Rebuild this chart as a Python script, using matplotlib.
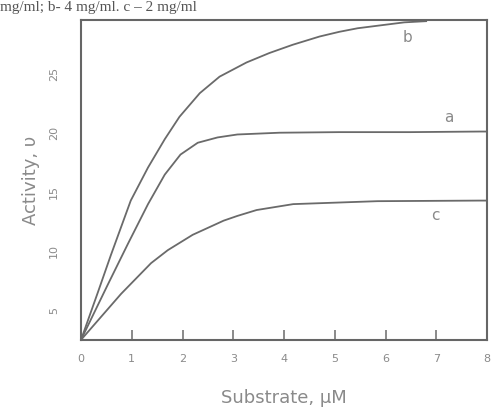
import matplotlib.pyplot as plt

# Values
substrate_b = [0, 0.33, 0.59, 0.98, 1.32, 1.65, 1.94, 2.34, 2.73, 3.26, 3.71, 4.17,
               4.70, 5.09, 5.45, 6.0, 6.37, 6.8]
activity_b = [2.5, 6.5, 9.7, 14.3, 17.1, 19.5, 21.4, 23.4, 24.8, 26.0, 26.8, 27.5,
              28.2, 28.6, 28.9, 29.2, 29.4, 29.5]

substrate_a = [0, 0.53, 0.92, 1.32, 1.65, 1.96, 2.30, 2.69, 3.08, 3.91, 5.09, 6.5, 7.86, 8.0]
activity_a = [2.5, 7.2, 10.6, 14.0, 16.5, 18.2, 19.2, 19.65, 19.9, 20.05, 20.1, 20.1, 20.15, 20.15]

substrate_c = [0, 0.79, 1.38, 1.71, 2.2, 2.81, 3.08, 3.46, 4.18, 5.84, 7.86, 8.0]
activity_c = [2.5, 6.4, 9.0, 10.1, 11.4, 12.6, 13.0, 13.5, 14.0, 14.25, 14.3, 14.3]

x_ticks = [0, 1, 2, 3, 4, 5, 6, 7, 8]
y_ticks = [5, 10, 15, 20, 25]

curve_labels = ['b', 'a', 'c']
label_pos = [(6.43, 28.1), (7.25, 21.3), (6.98, 13.0)]

line_color = '#6a6a6a'
text_color = '#8a8a8a'

fig = plt.figure(figsize=(4.97, 4.08), dpi=100)
ax = fig.add_axes([0.163, 0.167, 0.817, 0.784])

for xs, ys in [(substrate_b, activity_b), (substrate_a, activity_a), (substrate_c, activity_c)]:
    ax.plot(xs, ys, color=line_color, linewidth=1.3, solid_joinstyle='round')

for lbl, (lx, ly) in zip(curve_labels, label_pos):
    ax.text(lx, ly, lbl, color=text_color, fontsize=11, ha='center', va='center')

ax.set_xlim(0, 8)
ax.set_ylim(2.5, 29.6)
ax.set_xticks(x_ticks)
ax.set_yticks(y_ticks)
ax.tick_params(axis='x', direction='in', length=7, width=1.2, colors='#777777',
               labelsize=8, labelcolor=text_color, pad=10)
ax.tick_params(axis='y', length=0, labelsize=8, labelcolor=text_color, pad=16)
for t in ax.get_yticklabels():
    t.set_rotation(90)
    t.set_va('center')

for s in ax.spines.values():
    s.set_color('#666666')
    s.set_linewidth(1.5)

ax.set_xlabel('Substrate, µM', fontsize=13, color=text_color, labelpad=18)
ax.set_ylabel('Activity, υ', fontsize=13, color=text_color, labelpad=6)

# caption at the top of the scan
fig.text(0.0, 0.998, 'mg/ml; b- 4 mg/ml. c – 2 mg/ml', family='Liberation Serif',
         fontsize=11, color='#555555', ha='left', va='top')

fig.savefig('out.png', dpi=100)
